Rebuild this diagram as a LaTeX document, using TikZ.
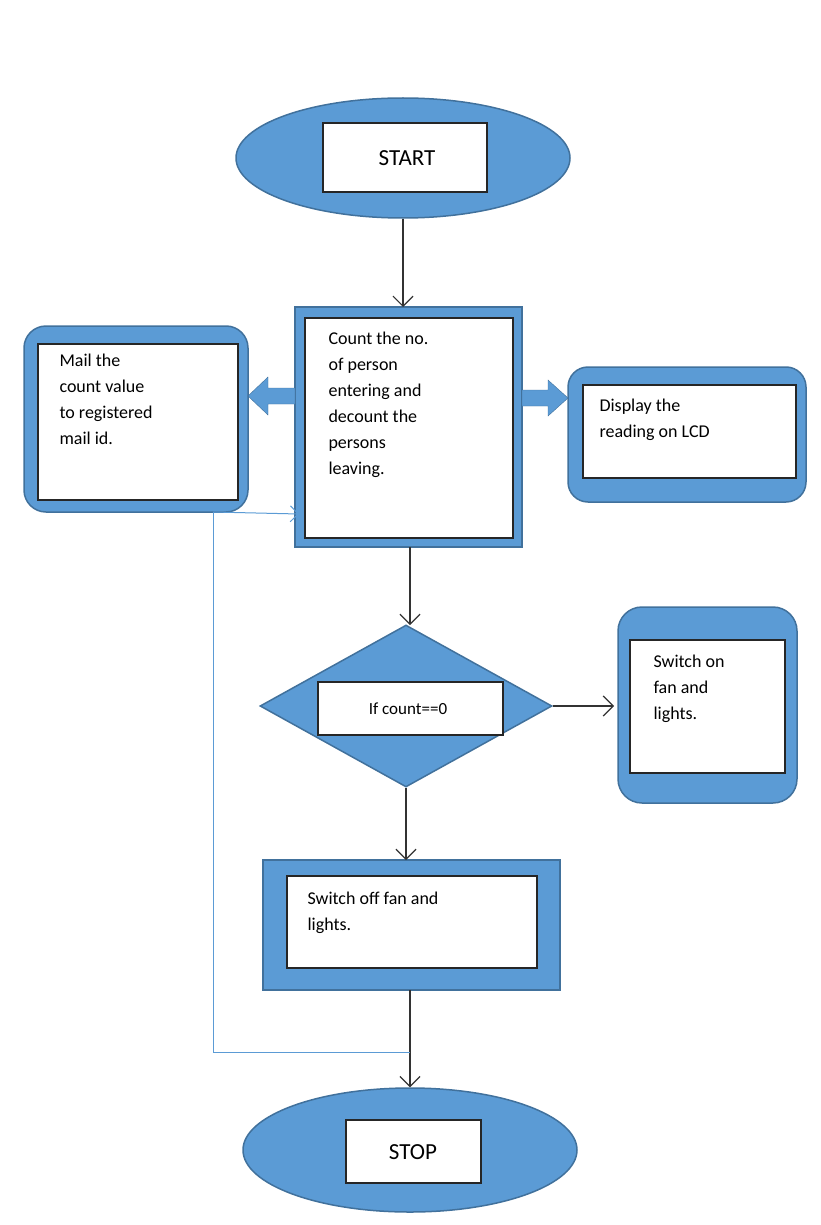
\documentclass[tikz,border=0pt]{standalone}
\usepackage{fontspec}
\setmainfont{Carlito}
\usetikzlibrary{shapes.geometric,arrows.meta}
\definecolor{bl}{HTML}{5B9BD5}
\definecolor{bd}{HTML}{41719C}
\begin{document}
\begin{tikzpicture}[x=1pt,y=-1pt,
 outer/.style={fill=bl,draw=bd,line width=1.5pt},
 inner/.style={fill=white,draw=black!85,line width=1.4pt},
 txt/.style={font=\fontsize{18}{26}\selectfont,align=left,anchor=north west},
 arr/.style={-{Straight Barb[length=10pt,width=20pt]},line width=1.2pt,black!80},
 thin/.style={draw=bl,line width=1pt}]
\useasboundingbox (0,0) rectangle (821,1225);
% START
\node[outer,ellipse,minimum width=334,minimum height=120] (start) at (403,158) {};
\draw[inner] (323,123) rectangle (487,192);
\node[font=\fontsize{23}{26}\selectfont] (starttxt) at (407,158) {START};
% count
\draw[outer] (295,307) rectangle (522,547);
\draw[inner] (305,318) rectangle (513,538);
\node[txt] (count) at (325,328) {Count the no.\\ of person\\ entering and\\ decount the\\ persons\\ leaving.};
\coordinate (countT) at (403,307);
\coordinate (countB) at (410,547);
% mail
\draw[outer,rounded corners=22] (24,326) rectangle (248,512);
\draw[inner] (38,344) rectangle (238,500);
\node[txt] (mail) at (56,350) {Mail the\\ count value\\ to registered\\ mail id.};
% display
\draw[outer,rounded corners=20] (568,367) rectangle (806,502);
\draw[inner] (583,385) rectangle (796,478);
\node[txt] (disp) at (596,395) {Display the\\ reading on LCD};
% block arrows
\fill[bl,draw=bd] (295,388) -- (268,388) -- (268,377) -- (248,396) -- (268,415) -- (268,404) -- (295,404) -- cycle;
\fill[bl,draw=bd] (522,390) -- (548,390) -- (548,380) -- (568,398) -- (548,416) -- (548,406) -- (522,406) -- cycle;
% diamond
\node[outer,diamond,minimum width=292,minimum height=162,inner sep=0] (dia) at (406,706) {};
\draw[inner] (318,682) rectangle (503,735);
\node[font=\fontsize{17}{20}\selectfont] (iftxt) at (408,709) {If count==0};
% switch on
\draw[outer,rounded corners=24] (618,607) rectangle (797,803);
\draw[inner] (630,640) rectangle (785,773);
\node[txt] (on) at (650,651) {Switch on\\ fan and\\ lights.};
% switch off
\draw[outer] (263,860) rectangle (560,990);
\draw[inner] (287,876) rectangle (537,968);
\node[txt] (off) at (304,888) {Switch off fan and\\ lights.};
\coordinate (offT) at (406,860);
\coordinate (offB) at (410,990);
% STOP
\node[outer,ellipse,minimum width=334,minimum height=124] (stop) at (410,1150) {};
\draw[inner] (346,1120) rectangle (481,1183);
\node[font=\fontsize{23}{26}\selectfont] (stoptxt) at (413,1152) {STOP};
% arrows
\draw[arr] (start.south) -- (countT);
\draw[arr] (countB) -- (410,625);
\draw[arr] (dia.east) -- (614,706);
\draw[arr] (dia.south) -- (offT);
\draw[arr] (offB) -- (stop.north);
% thin blue
\coordinate (m1) at (213,512);
\coordinate (m2) at (213,1052);
\coordinate (m3) at (410,1052);
\coordinate (m4) at (299,514);
\draw[thin] (m1) -- (m2) -- (m3);
\draw[thin,-{Straight Barb[length=8pt,width=16pt]}] (m1) -- (m4);
\end{tikzpicture}
\end{document}
